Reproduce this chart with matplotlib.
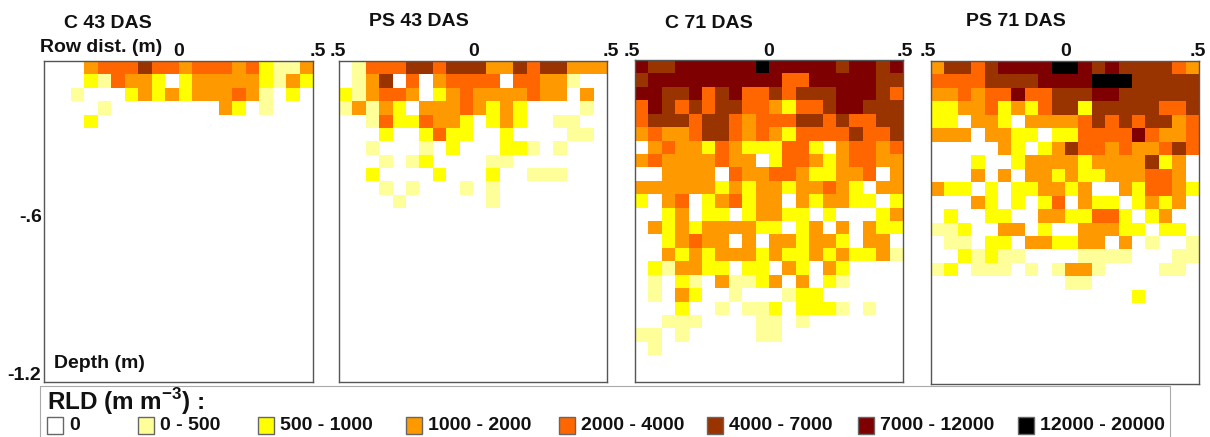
import matplotlib
matplotlib.use('Agg')
import matplotlib.pyplot as plt
import matplotlib.patches as patches
from matplotlib.colors import ListedColormap, BoundaryNorm
import numpy as np

plt.rcParams['font.family'] = ['Liberation Sans', 'DejaVu Sans']
plt.rcParams['font.weight'] = 'bold'
plt.rcParams['mathtext.fontset'] = 'custom'
plt.rcParams['mathtext.bf'] = 'Liberation Sans:bold'

# RLD class of every 5 cm cell, one string per depth row (top row first)
# 0 = none, 1 = 0-500 ... 7 = 12000-20000
c43 = [
    "00034445443444342113",
    "00021433202333332132",
    "00100023232333431020",
    "00001000000003201000",
    "00020000000000000000",
]
ps43 = [
    "01444554555335455333",
    "01350403444404433100",
    "21344302343333433030",
    "13132033343232000010",
    "00142243320232001100",
    "00020024220020000110",
    "00100010200022101000",
    "00010120000110000000",
    "00200002000200111000",
    "00010100010100000000",
    "00001000000100000000",
]
c71 = [
    "65566666676666656656",
    "56666666666446666655",
    "66556456445455566654",
    "46545455443244566555",
    "45554554344455454455",
    "34334554343244445445",
    "03433243222442034434",
    "34333343302443234433",
    "00333304334432233403",
    "33333323233233432033",
    "20340234233032332202",
    "00230220233220200023",
    "03232333322023030322",
    "00234330303323320330",
    "00323233323223232231",
    "02133220220320320000",
    "01021031123030210000",
    "01032001000122000000",
    "00020010112022210100",
    "00111000011010000000",
    "11010000011000000000",
    "01000000000000000000",
]
ps71 = [
    "35545666677656555543",
    "44445555666677755555",
    "33434464455566555555",
    "22334232455255555445",
    "22033203333454545534",
    "33303322022444464334",
    "00000320235443433454",
    "00020023333233335230",
    "00030303323223334430",
    "32202022332300324432",
    "00032020240322023230",
    "02002200332244202300",
    "11200330200333220220",
    "01102203322330301001",
    "00212110000111100011",
    "12011101013310000110",
    "00000000001100000000",
    "00000000000000020000",
]

titles = ['C 43 DAS', 'PS 43 DAS', 'C 71 DAS', 'PS 71 DAS']
panels = [c43, ps43, c71, ps71]
class_labels = ['0', '0 - 500', '500 - 1000', '1000 - 2000', '2000 - 4000',
                '4000 - 7000', '7000 - 12000', '12000 - 20000']
class_colors = ['#FFFFFF', '#FFFF99', '#FFFF00', '#FF9900', '#FF6600',
                '#993300', '#7F0000', '#000000']

n_cols = 20
n_rows = 24

W, H = 1210, 437
fig = plt.figure(figsize=(W / 100, H / 100), dpi=100)

# full figure axes in pixels, for the loose labels and the legend
page = fig.add_axes([0, 0, 1, 1])
page.set_xlim(0, W)
page.set_ylim(H, 0)
page.axis('off')
page.set_zorder(5)

cmap = ListedColormap(class_colors)
norm = BoundaryNorm(np.arange(-0.5, 8.5), cmap.N)
x_edges = np.linspace(-0.5, 0.5, n_cols + 1)
y_edges = np.linspace(0, -1.2, n_rows + 1)

boxes = [(44, 61, 313, 382), (339, 61, 607, 382), (635, 60, 903, 382), (931, 61, 1199, 384)]
title_x = [64, 369, 665, 966]
title_y = [23, 21, 24, 21]

for rows, box in zip(panels, boxes):
    left, top, right, bottom = box
    ax = fig.add_axes([left / W, 1 - bottom / H, (right - left) / W, (bottom - top) / H])
    grid = np.zeros((n_rows, n_cols), dtype=int)
    for r, row in enumerate(rows):
        grid[r] = [int(c) for c in row]
    ax.pcolormesh(x_edges, y_edges, grid, cmap=cmap, norm=norm, rasterized=True)
    ax.set_xlim(-0.5, 0.5)
    ax.set_ylim(-1.2, 0)
    ax.set_xticks([])
    ax.set_yticks([])
    for spine in ax.spines.values():
        spine.set_color('#555555')
        spine.set_linewidth(1.0)

for name, x, y in zip(titles, title_x, title_y):
    page.text(x, y, name, fontsize=14, ha='left', va='center', color='#111111')

page.text(40, 48, 'Row dist. (m)', fontsize=14, ha='left', va='center', color='#111111')
page.text(54, 364, 'Depth (m)', fontsize=14, ha='left', va='center', color='#111111')
page.text(19, 218, '-.6', fontsize=14, ha='left', va='center', color='#111111')
page.text(7, 376, '-1.2', fontsize=14, ha='left', va='center', color='#111111')

# tick labels along the top
for x, s in [(179, '0'), (318, '.5'), (338, '.5'), (474, '0'), (611, '.5'),
             (632, '.5'), (769, '0'), (905, '.5'), (928, '.5'), (1066, '0'), (1198, '.5')]:
    page.text(x, 51, s, fontsize=14, ha='center', va='center', color='#111111')

# legend
page.add_patch(patches.Rectangle((40, 386), 1130, 60, fill=False, edgecolor='#aaaaaa', linewidth=0.8))
page.text(47, 402, r'RLD (m m$^{\mathbf{-3}}$) :', fontsize=17.5, ha='left', va='center', color='#111111')
swatch_x = [47, 138, 258, 406, 559, 707, 858, 1018]
for x, color, label in zip(swatch_x, class_colors, class_labels):
    page.add_patch(patches.Rectangle((x, 417), 16, 17, facecolor=color, edgecolor='#666666', linewidth=1.0))
    page.text(x + 22, 426, label, fontsize=14, ha='left', va='center', color='#111111')

fig.savefig('out.png', dpi=100)
